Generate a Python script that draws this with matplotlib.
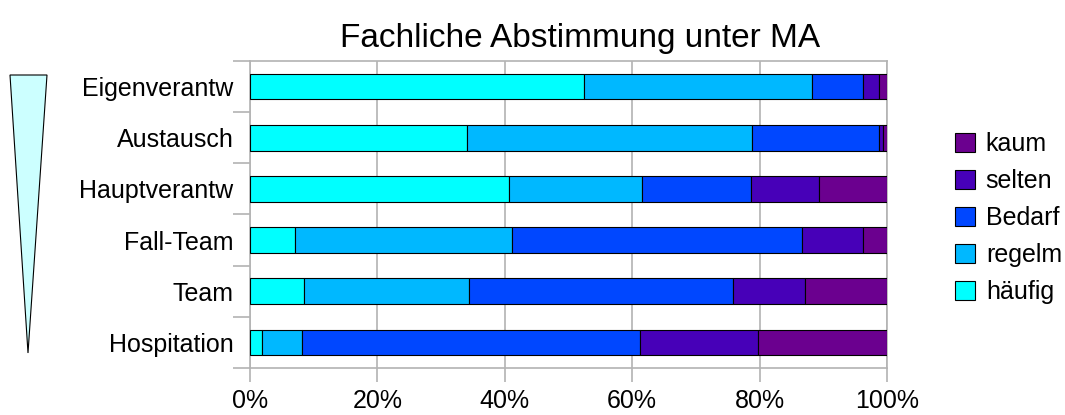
import matplotlib
matplotlib.use('Agg')
from matplotlib import pyplot as plt
from matplotlib.patches import Polygon
import numpy as np

plt.rcParams['font.family'] = ['Liberation Sans', 'DejaVu Sans']

# categories from bottom to top
categories = ['Hospitation', 'Team', 'Fall-Team', 'Hauptverantw', 'Austausch', 'Eigenverantw']
haeufig = [1.9, 8.4, 7.1, 40.6, 34.1, 52.5]
regelm = [6.2, 26.0, 34.1, 21.0, 44.7, 35.8]
bedarf = [53.1, 41.4, 45.4, 17.1, 19.9, 8.0]
selten = [18.5, 11.3, 9.7, 10.7, 0.7, 2.4]
kaum = [20.3, 12.9, 3.7, 10.6, 0.6, 1.3]

series = [('häufig', haeufig, '#00ffff'),
          ('regelm', regelm, '#00b8ff'),
          ('Bedarf', bedarf, '#0047ff'),
          ('selten', selten, '#4700b8'),
          ('kaum', kaum, '#6b008f')]

xticks = [0, 20, 40, 60, 80, 100]
xticklabels = ['0%', '20%', '40%', '60%', '80%', '100%']

fig = plt.figure(figsize=(10.65, 4.15), dpi=100)
ax = fig.add_axes([250/1065, 1 - 368/415, 637/1065, 307/415])

y = np.arange(len(categories))
left = np.zeros(len(categories))
handles = []
for name, vals, col in series:
    vals = np.array(vals)
    b = ax.barh(y, vals, left=left, height=0.5, color=col,
                edgecolor='black', linewidth=0.8, label=name, zorder=3)
    handles.append(b)
    left = left + vals

ax.set_xlim(0, 100)
ax.set_ylim(-0.5, len(categories) - 0.5)
ax.set_xticks(xticks)
ax.set_xticklabels(xticklabels, fontsize=18)
ax.set_yticks(np.arange(-0.5, len(categories), 1.0))
ax.set_yticklabels([])
ax.set_yticks(y, minor=True)
ax.set_yticklabels(categories, minor=True, fontsize=18)
ax.tick_params(axis='y', which='minor', length=0, pad=12)
ax.tick_params(axis='y', which='major', length=12, color='#b3b3b3', width=1.2)
ax.tick_params(axis='x', length=10, color='#b3b3b3', width=1.2, pad=5)
ax.grid(axis='x', color='#b3b3b3', linewidth=1.2, zorder=0)
for s in ax.spines.values():
    s.set_color('#b3b3b3')
    s.set_linewidth(1.2)

fig.text(580/1065, 1 - 39/415, 'Fachliche Abstimmung unter MA', fontsize=24,
         ha='center', va='center')

fig.legend(handles[::-1], [s[0] for s in series][::-1], loc='center left',
           bbox_to_anchor=(955/1065, 1 - 218/415), frameon=False, fontsize=18,
           handlelength=0.78, handleheight=0.78, handletextpad=0.45,
           labelspacing=0.52, borderpad=0, borderaxespad=0)

# wedge on the left
tri = Polygon([[10/1065, 1 - 75/415], [47/1065, 1 - 75/415], [28/1065, 1 - 353/415]],
              closed=True, facecolor='#ccffff', edgecolor='black', linewidth=0.8,
              transform=fig.transFigure)
fig.patches.append(tri)

fig.savefig('out.png', dpi=100)
